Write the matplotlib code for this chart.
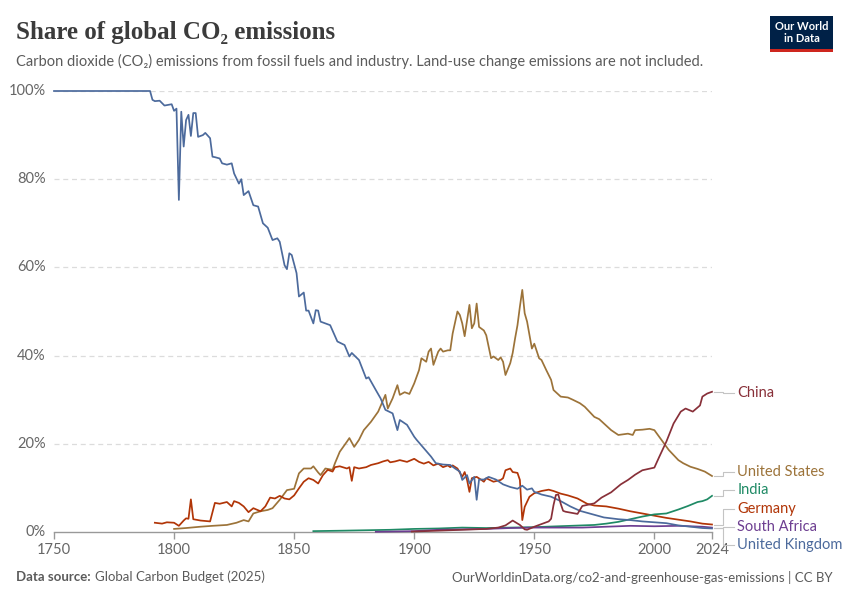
import matplotlib.pyplot as plt
import matplotlib.patches as mpatches

# share of global CO2 emissions (%)
uk_years = [1750, 1760, 1770, 1780, 1790, 1791, 1792, 1794, 1796, 1799, 1800, 1801, 1802, 1803,
            1804, 1805, 1806, 1807, 1808, 1809, 1810, 1812, 1813, 1815, 1816, 1817, 1819, 1820,
            1822, 1824, 1825, 1827, 1828, 1829, 1831, 1833, 1835, 1837, 1839, 1841, 1843, 1844,
            1846, 1847, 1848, 1849, 1851, 1852, 1854, 1855, 1856, 1858, 1859, 1860, 1861, 1865,
            1868, 1871, 1873, 1874, 1877, 1880, 1881, 1884, 1886, 1888, 1891, 1893, 1894, 1897,
            1900, 1901, 1904, 1907, 1909, 1912, 1915, 1917, 1919, 1920, 1922, 1923, 1925, 1926,
            1927, 1929, 1931, 1934, 1937, 1940, 1943, 1945, 1947, 1949, 1950, 1953, 1957, 1961,
            1965, 1969, 1973, 1979, 1985, 1990, 1995, 2000, 2005, 2010, 2015, 2020, 2024]
uk_share = [100, 100, 100, 100, 100, 98.0, 97.7, 97.8, 96.7, 97.0, 95.5, 96.0, 75.3, 95.3,
            87.4, 93.4, 94.6, 89.8, 95.0, 95.0, 89.6, 90.0, 90.5, 89.3, 85.1, 85.0, 84.7, 83.6,
            83.3, 83.6, 81.3, 79.0, 80.0, 76.4, 77.3, 74.1, 73.8, 70.0, 69.0, 66.2, 66.6, 65.8,
            60.5, 59.6, 63.2, 62.8, 58.7, 53.4, 54.3, 50.2, 50.2, 47.3, 50.3, 50.2, 47.7, 46.9,
            43.2, 42.4, 39.8, 40.6, 39.0, 34.8, 35.1, 32.2, 30.3, 27.7, 26.9, 23.1, 25.4, 24.3,
            21.6, 20.9, 19.0, 17.1, 15.6, 15.3, 15.2, 14.4, 13.7, 11.8, 12.9, 11.0, 12.5, 7.3,
            11.9, 11.9, 12.5, 11.9, 10.8, 10.2, 9.8, 10.5, 9.6, 9.9, 9.1, 8.5, 8.0, 7.0,
            5.8, 4.8, 4.2, 3.3, 2.9, 2.7, 2.4, 2.2, 2.0, 1.5, 1.2, 0.9, 0.8]

us_years = [1800, 1805, 1811, 1816, 1822, 1826, 1829, 1831, 1833, 1836, 1839, 1841, 1844, 1847,
            1850, 1852, 1854, 1857, 1858, 1860, 1861, 1863, 1866, 1867, 1869, 1872, 1873, 1875,
            1877, 1879, 1882, 1885, 1888, 1889, 1891, 1893, 1894, 1896, 1898, 1900, 1902, 1903,
            1905, 1906, 1907, 1908, 1910, 1911, 1912, 1914, 1915, 1916, 1918, 1919, 1920, 1921,
            1923, 1924, 1925, 1926, 1927, 1929, 1930, 1932, 1933, 1935, 1936, 1937, 1938, 1940,
            1941, 1942, 1943, 1944, 1945, 1946, 1947, 1949, 1950, 1952, 1953, 1955, 1957, 1958,
            1961, 1964, 1966, 1969, 1971, 1975, 1977, 1982, 1985, 1989, 1991, 1992, 1995, 1998,
            2000, 2002, 2006, 2010, 2012, 2015, 2018, 2021, 2024]
us_share = [0.7, 0.9, 1.2, 1.4, 1.6, 2.1, 2.7, 2.4, 4.2, 4.7, 5.0, 5.4, 7.3, 9.5,
            9.8, 13.3, 14.4, 14.4, 14.9, 13.5, 12.9, 14.4, 14.1, 15.6, 18.2, 20.5, 21.3, 19.3,
            20.9, 23.1, 25.0, 27.3, 31.1, 28.0, 30.3, 33.3, 31.1, 31.7, 31.3, 33.7, 36.7, 39.4,
            38.6, 40.9, 41.6, 37.9, 40.9, 41.6, 40.9, 41.2, 41.2, 45.0, 50.0, 49.2, 47.3, 44.4,
            51.5, 46.2, 47.3, 51.8, 46.5, 45.7, 44.6, 39.4, 39.8, 39.0, 39.6, 38.6, 35.6, 38.3,
            40.6, 43.9, 46.9, 51.1, 54.9, 49.6, 47.7, 41.6, 42.7, 39.4, 39.0, 36.7, 34.5, 32.2,
            30.7, 30.5, 30.0, 29.2, 28.4, 26.1, 25.6, 23.1, 22.0, 22.3, 22.0, 23.1, 23.2, 23.4,
            23.1, 21.6, 18.6, 16.3, 15.6, 14.8, 14.3, 13.7, 12.7]

de_years = [1792, 1795, 1797, 1800, 1802, 1804, 1805, 1806, 1807, 1808, 1811, 1815, 1816, 1817,
            1819, 1822, 1824, 1825, 1827, 1829, 1831, 1833, 1836, 1838, 1840, 1842, 1844, 1846,
            1848, 1850, 1852, 1854, 1856, 1858, 1860, 1862, 1864, 1866, 1867, 1869, 1872, 1873,
            1874, 1875, 1877, 1880, 1882, 1885, 1887, 1889, 1890, 1892, 1894, 1897, 1900, 1902,
            1904, 1906, 1908, 1910, 1912, 1914, 1915, 1916, 1918, 1920, 1921, 1922, 1923, 1924,
            1926, 1928, 1929, 1930, 1933, 1936, 1937, 1938, 1940, 1941, 1943, 1944, 1945, 1946,
            1948, 1950, 1953, 1956, 1958, 1961, 1964, 1968, 1972, 1975, 1980, 1985, 1990, 1995,
            2000, 2005, 2010, 2015, 2020, 2024]
de_share = [2.1, 1.9, 2.2, 2.1, 1.4, 2.6, 3.1, 3.0, 7.4, 2.9, 2.6, 2.4, 4.5, 6.6,
            6.4, 6.8, 5.8, 7.0, 6.6, 5.8, 4.5, 5.4, 4.7, 5.8, 7.8, 7.6, 8.2, 7.6,
            7.4, 8.3, 9.9, 11.4, 12.2, 11.8, 11.0, 12.9, 14.1, 13.7, 14.7, 14.9, 14.4, 14.7,
            11.6, 14.7, 14.4, 14.7, 15.2, 15.6, 16.0, 16.3, 15.8, 16.0, 16.3, 15.9, 16.6, 15.9,
            15.5, 15.9, 15.1, 15.5, 14.7, 15.1, 14.7, 15.1, 14.4, 12.5, 13.6, 11.8, 9.1, 12.2,
            12.5, 11.8, 11.4, 12.2, 11.4, 11.8, 12.2, 14.0, 14.4, 13.6, 13.4, 11.8, 2.7, 5.7,
            8.0, 8.8, 9.3, 9.6, 9.3, 8.7, 8.3, 7.6, 6.4, 6.0, 5.8, 5.3, 4.7, 4.2,
            3.7, 3.2, 2.8, 2.4, 1.9, 1.7]

cn_years = [1899, 1910, 1920, 1925, 1930, 1935, 1938, 1941, 1944, 1946, 1947, 1950, 1953, 1956,
            1957, 1958, 1959, 1960, 1961, 1962, 1963, 1966, 1968, 1970, 1975, 1978, 1982, 1986,
            1989, 1992, 1995, 2000, 2002, 2005, 2008, 2011, 2013, 2016, 2019, 2020, 2022, 2024]
cn_share = [0.1, 0.3, 0.5, 0.6, 0.7, 1.0, 1.5, 2.6, 1.6, 0.6, 0.5, 1.2, 1.8, 2.4,
            3.0, 6.1, 8.4, 8.5, 6.4, 4.8, 4.6, 4.3, 4.1, 5.9, 6.5, 7.8, 9.0, 10.8,
            11.8, 13.0, 14.0, 14.6, 17.0, 20.5, 24.6, 27.3, 28.0, 27.3, 28.7, 30.7, 31.4, 31.8]

in_years = [1858, 1870, 1880, 1890, 1900, 1910, 1920, 1930, 1940, 1950, 1960, 1970, 1975, 1980,
            1985, 1990, 1995, 2000, 2005, 2010, 2014, 2018, 2020, 2022, 2024]
in_share = [0.2, 0.3, 0.4, 0.5, 0.7, 0.8, 1.0, 0.9, 1.0, 1.1, 1.3, 1.5, 1.6, 1.9,
            2.3, 2.9, 3.5, 4.0, 4.2, 5.1, 5.9, 6.8, 7.0, 7.4, 8.2]

za_years = [1884, 1890, 1900, 1910, 1920, 1930, 1940, 1950, 1960, 1970, 1980, 1990, 2000, 2010,
            2015, 2020, 2024]
za_share = [0.05, 0.1, 0.2, 0.5, 0.6, 0.7, 0.9, 1.0, 1.0, 1.0, 1.2, 1.4, 1.3, 1.4,
            1.3, 1.2, 1.0]

countries = ["China", "United States", "India", "Germany", "South Africa", "United Kingdom"]
series = {
    "China": (cn_years, cn_share),
    "United States": (us_years, us_share),
    "India": (in_years, in_share),
    "Germany": (de_years, de_share),
    "South Africa": (za_years, za_share),
    "United Kingdom": (uk_years, uk_share),
}
colors = {
    "China": "#883039",
    "United States": "#9c7339",
    "India": "#1f8a65",
    "Germany": "#b13507",
    "South Africa": "#6d3e91",
    "United Kingdom": "#4c6a9c",
}
# where the end labels sit (in % units, spread so they don't overlap)
label_pos = {"China": 31.6, "United States": 13.6, "India": 9.5,
             "Germany": 5.2, "South Africa": 1.1, "United Kingdom": -3.0}

x_ticks = [1750, 1800, 1850, 1900, 1950, 2000, 2024]
y_ticks = [0, 20, 40, 60, 80, 100]

plt.rcParams['font.family'] = ['Lato', 'DejaVu Sans']

fig = plt.figure(figsize=(8.5, 6), dpi=100)
ax = fig.add_axes([54 / 850, 68 / 600, 658 / 850, 441 / 600])

for c in ["United States", "Germany", "India", "South Africa", "United Kingdom", "China"]:
    yrs, vals = series[c]
    ax.plot(yrs, vals, color=colors[c], lw=1.25, clip_on=False, zorder=3)

ax.set_xlim(1750, 2024)
ax.set_ylim(0, 100)

for v in y_ticks[1:]:
    ax.axhline(v, color="#dcdcdc", lw=0.9, ls=(0, (4, 3)), zorder=1)

for s in ["top", "right", "left"]:
    ax.spines[s].set_visible(False)
ax.spines["bottom"].set_color("#999999")
ax.spines["bottom"].set_linewidth(1)

ax.set_xticks(x_ticks)
ax.set_xticklabels([str(t) for t in x_ticks])
ax.set_yticks(y_ticks)
ax.set_yticklabels([f"{t}%" for t in y_ticks])
ax.tick_params(axis="x", colors="#999999", labelcolor="#666666", labelsize=10.5,
               length=5, width=1, pad=3)
ax.tick_params(axis="y", length=0, labelcolor="#666666", labelsize=10.5, pad=6)
for lab in ax.get_yticklabels():
    lab.set_verticalalignment("center")

# end labels with connector lines
for c in countries:
    yrs, vals = series[c]
    y_end = vals[-1]
    y_lab = label_pos[c]
    xs = [2025, 2028.5, 2028.5, 2033]
    ys = [y_end, y_end, y_lab, y_lab]
    ax.plot(xs, ys, color="#c4c4c4", lw=0.8, clip_on=False, zorder=2)
    ax.text(2034.5, y_lab, c, color=colors[c], fontsize=10.5, va="center", ha="left",
            clip_on=False)

# header
fig.text(16 / 850, 1 - 32 / 600, "Share of global CO\u2082 emissions", fontsize=18,
         family=["Liberation Serif", "DejaVu Serif"], fontweight="bold", color="#3b3b3b",
         va="center", ha="left")
fig.text(16 / 850, 1 - 61 / 600,
         "Carbon dioxide (CO\u2082) emissions from fossil fuels and industry. "
         "Land-use change emissions are not included.",
         fontsize=10.5, color="#5b5b5b", va="center", ha="left")

# logo
logo = mpatches.Rectangle((770 / 850, 1 - 52 / 600), 63 / 850, 36 / 600,
                          transform=fig.transFigure, facecolor="#002147", edgecolor="none")
fig.patches.append(logo)
bar = mpatches.Rectangle((770 / 850, 1 - 52 / 600), 63 / 850, 3 / 600,
                         transform=fig.transFigure, facecolor="#ce261e", edgecolor="none")
fig.patches.append(bar)
fig.text(801.5 / 850, 1 - 32.5 / 600, "Our World\nin Data", color="white", fontsize=8,
         fontweight="bold", ha="center", va="center", linespacing=1.0)

# footer
t = fig.text(16 / 850, 1 - 577 / 600, "Data source:", fontsize=9.5, fontweight="bold",
             color="#5b5b5b", va="center", ha="left")
fig.canvas.draw()
bb = t.get_window_extent()
fig.text(bb.x1 / 850 + 4 / 850, 1 - 577 / 600, "Global Carbon Budget (2025)", fontsize=9.5,
         color="#5b5b5b", va="center", ha="left")
fig.text(833 / 850, 1 - 577 / 600,
         "OurWorldinData.org/co2-and-greenhouse-gas-emissions | CC BY",
         fontsize=9.5, color="#5b5b5b", va="center", ha="right")

fig.savefig("out.png", dpi=100)
